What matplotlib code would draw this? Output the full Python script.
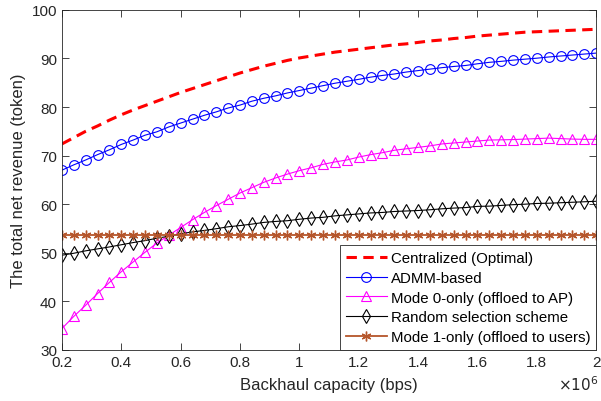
import matplotlib
matplotlib.use("Agg")
import matplotlib.pyplot as plt
from matplotlib.ticker import FuncFormatter

plt.rcParams['font.family'] = ['Liberation Sans', 'DejaVu Sans']

# backhaul capacity in bps (0.2e6 .. 2e6, step 0.04e6)
capacity = [(20 + 4 * i) * 1e4 for i in range(46)]

centralized = [72.4, 73.7, 75.0, 76.1, 77.3, 78.4, 79.4, 80.3, 81.2, 82.1,
               83.0, 83.8, 84.6, 85.4, 86.2, 87.0, 87.7, 88.4, 89.0, 89.6,
               90.1, 90.5, 90.9, 91.3, 91.6, 91.9, 92.2, 92.5, 92.8, 93.0,
               93.3, 93.6, 93.8, 94.1, 94.3, 94.6, 94.8, 95.0, 95.2, 95.4,
               95.5, 95.6, 95.7, 95.8, 95.9, 96.0]
admm = [67.0, 68.1, 69.1, 70.2, 71.2, 72.3, 73.2, 74.2, 74.9, 75.9,
        76.7, 77.5, 78.3, 79.0, 79.8, 80.4, 81.2, 81.8, 82.3, 82.9,
        83.4, 83.9, 84.4, 84.9, 85.3, 85.7, 86.15, 86.5, 86.8, 87.2,
        87.5, 87.8, 88.1, 88.35, 88.55, 88.9, 89.2, 89.4, 89.65, 89.85,
        90.05, 90.3, 90.5, 90.7, 90.9, 91.1]
mode0 = [34.4, 36.9, 39.2, 41.6, 43.9, 46.1, 48.1, 50.1, 52.0, 53.6,
         55.2, 56.8, 58.3, 59.7, 61.0, 62.3, 63.4, 64.5, 65.4, 66.2,
         66.9, 67.5, 68.2, 68.7, 69.1, 69.7, 70.2, 70.6, 71.1, 71.4,
         71.7, 72.0, 72.4, 72.6, 72.8, 73.0, 73.2, 73.25, 73.3, 73.4,
         73.5, 73.6, 73.5, 73.4, 73.35, 73.35]
random_sel = [49.5, 49.9, 50.4, 50.8, 51.2, 51.65, 52.1, 52.5, 53.0, 53.4,
              53.9, 54.3, 54.6, 54.95, 55.35, 55.6, 55.9, 56.25, 56.45, 56.6,
              56.9, 57.15, 57.3, 57.6, 57.8, 58.0, 58.2, 58.3, 58.5, 58.6,
              58.7, 58.85, 59.05, 59.2, 59.3, 59.55, 59.6, 59.75, 59.9, 60.0,
              60.15, 60.2, 60.3, 60.4, 60.5, 60.6]
mode1 = [53.6] * 46

labels = ["Centralized (Optimal)", "ADMM-based", "Mode 0-only (offloed to AP)",
          "Random selection scheme", "Mode 1-only (offloed to users)"]

fig = plt.figure(figsize=(6.01, 4.02), dpi=100)
ax = fig.add_axes([0.103, 0.127, 0.889, 0.846])

ax.plot(capacity, centralized, '--', color='red', lw=2.2, dashes=(3.4, 2.1),
        label=labels[0])
ax.plot(capacity, admm, '-', color='blue', lw=0.8, marker='o', ms=7,
        mfc='none', mew=0.8, label=labels[1])
ax.plot(capacity, mode0, '-', color='magenta', lw=0.8, marker='^', ms=7,
        mfc='none', mew=0.8, label=labels[2])
ax.plot(capacity, random_sel, '-', color='black', lw=0.8, marker='d', ms=7,
        mfc='none', mew=0.8, label=labels[3])
ax.plot(capacity, mode1, '-', color='#B5552A', lw=1.3, marker=(6, 2, 0), ms=7,
        mew=1.0, label=labels[4])

ax.set_xlim(0.2e6, 2e6)
ax.set_ylim(30, 100)
ax.set_xticks([v * 1e5 for v in range(2, 21, 2)])
ax.set_yticks(range(30, 101, 10))
ax.xaxis.set_major_formatter(FuncFormatter(lambda v, p: f"{v / 1e6:g}"))
ax.tick_params(direction='in', top=True, right=True, labelsize=11,
               length=5, width=0.6, colors='#262626')
for s in ax.spines.values():
    s.set_linewidth(0.6)
    s.set_color('#262626')

ax.set_xlabel("Backhaul capacity (bps)", fontsize=12, color='#262626',
              labelpad=6)
ax.set_ylabel("The total net revenue (token)", fontsize=12, color='#262626')
ax.text(1.005, -0.072, r"$\times10^{6}$", transform=ax.transAxes,
        ha='right', va='top', fontsize=11, color='#262626')

leg = ax.legend(loc='lower right', fontsize=10.8, handlelength=2.75,
                borderaxespad=0, fancybox=False, edgecolor='#262626',
                framealpha=1, labelspacing=0.38, handletextpad=0.25,
                borderpad=0.4)
leg.get_frame().set_linewidth(0.6)

fig.savefig("out.png", dpi=100)
